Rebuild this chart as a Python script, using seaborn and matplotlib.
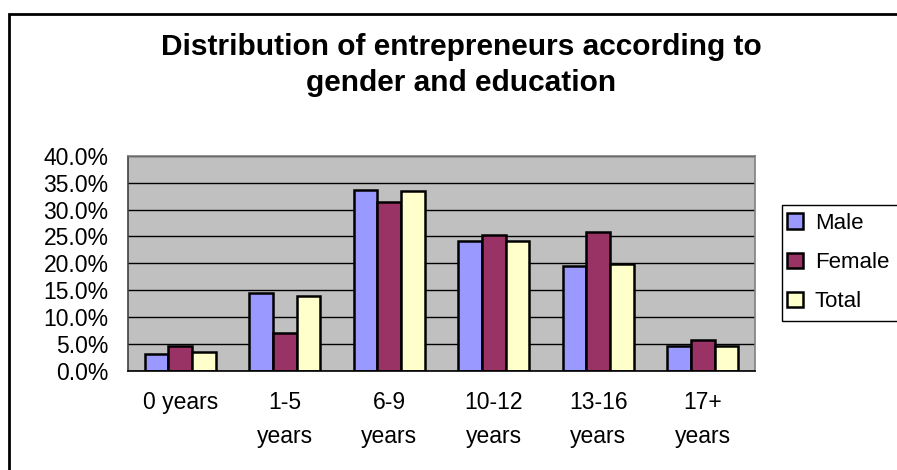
import matplotlib
matplotlib.use("Agg")
import matplotlib.pyplot as plt
import matplotlib.patches as mpatches
from matplotlib.ticker import FuncFormatter, MultipleLocator, FixedLocator
import seaborn as sns
import pandas as pd

categories = ["0 years", "1-5\nyears", "6-9\nyears", "10-12\nyears", "13-16\nyears", "17+\nyears"]
male = [3.0, 14.5, 33.7, 24.1, 19.5, 4.5]
female = [4.5, 6.9, 31.5, 25.3, 25.8, 5.7]
total = [3.4, 13.8, 33.4, 24.2, 19.9, 4.6]
series_names = ["Male", "Female", "Total"]
colors = ["#9999FF", "#993366", "#FFFFCC"]

rows = []
for name, vals in zip(series_names, [male, female, total]):
    for c, v in zip(categories, vals):
        rows.append({"Education": c, "Gender": name, "Share": v})
df = pd.DataFrame(rows)

sns.set_style("white")
plt.rcParams['font.family'] = ['Liberation Sans', 'DejaVu Sans']
plt.rcParams['text.color'] = 'black'
plt.rcParams['xtick.color'] = 'black'
plt.rcParams['ytick.color'] = 'black'
plt.rcParams['xtick.labelcolor'] = 'black'
plt.rcParams['ytick.labelcolor'] = 'black'

W, H = 897, 470
fig = plt.figure(figsize=(W / 100, H / 100), dpi=100)
ax = fig.add_axes([128 / W, 1 - 370.5 / H, (755 - 128) / W, (370.5 - 156) / H])

sns.barplot(data=df, x="Education", y="Share", hue="Gender", order=categories,
            hue_order=series_names, palette=colors, width=0.68, ax=ax,
            edgecolor="black", linewidth=1.8, saturation=1, errorbar=None, legend=True)

ax.set_facecolor("#C0C0C0")
ax.set_ylim(0, 40)
ax.set_xlim(-0.5, len(categories) - 0.5)
ax.yaxis.set_major_locator(MultipleLocator(5))
ax.yaxis.set_major_formatter(FuncFormatter(lambda v, p: f"{v:.1f}%"))
ax.grid(axis="y", color="black", linewidth=1.0)
ax.set_axisbelow(True)
ax.set_xlabel("")
ax.set_ylabel("")

for s in ["top", "right"]:
    ax.spines[s].set_color("#808080")
    ax.spines[s].set_linewidth(1.2)
ax.spines["left"].set_color("#404040")
ax.spines["bottom"].set_color("black")
ax.spines["left"].set_linewidth(1.2)
ax.spines["bottom"].set_linewidth(1.2)

ax.tick_params(axis="y", which="major", direction="out", length=5, width=1,
               color="black", labelsize=16.5, pad=9, labelcolor="black")
ax.tick_params(axis="x", which="major", length=0, labelsize=16.5, pad=15, labelcolor="black")
ax.xaxis.set_minor_locator(FixedLocator([i - 0.5 for i in range(len(categories) + 1)]))
ax.tick_params(axis="x", which="minor", direction="out", length=6, width=1, color="black")
for lab in ax.get_xticklabels():
    lab.set_horizontalalignment("center")
    lab.set_multialignment("center")
    lab.set_linespacing(1.6)

# legend
handles, labels = ax.get_legend_handles_labels()
ax.get_legend().remove()
leg = fig.legend(handles, labels, loc="upper left",
                 bbox_to_anchor=(787 / W, 1 - 213 / H), frameon=False,
                 fontsize=16, handlelength=0.7, handleheight=0.7,
                 handletextpad=0.55, labelspacing=0.82, borderpad=0.0,
                 borderaxespad=0.0)
for t in leg.get_texts():
    t.set_color("black")
fig.patches.append(mpatches.Rectangle((782 / W, 1 - 321 / H), 0.2, (321 - 205) / H,
                                      transform=fig.transFigure, fill=False,
                                      edgecolor="black", linewidth=1.0))

# chart border
fig.patches.append(mpatches.Rectangle((9 / W, -0.1), 1.2, 1 - 14 / H + 0.1,
                                      transform=fig.transFigure, fill=False,
                                      edgecolor="black", linewidth=2.0))

fig.text(461 / W, 1 - 47 / H, "Distribution of entrepreneurs according to",
         ha="center", va="center", fontsize=21.5, fontweight="bold", color="black")
fig.text(461 / W, 1 - 83 / H, "gender and education",
         ha="center", va="center", fontsize=21.5, fontweight="bold", color="black")

fig.savefig("out.png", dpi=100)
